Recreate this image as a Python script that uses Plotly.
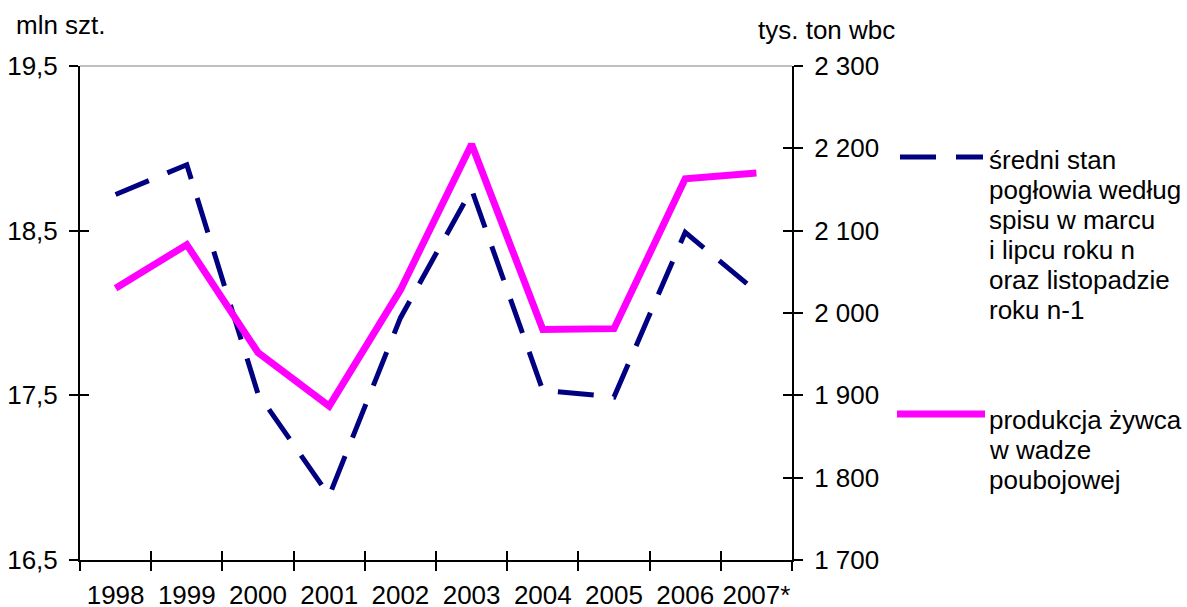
import plotly.graph_objects as go

# Data
years = ["1998", "1999", "2000", "2001", "2002", "2003", "2004", "2005", "2006", "2007*"]
herd_mln = [18.72, 18.90, 17.51, 16.89, 17.97, 18.75, 17.53, 17.49, 18.49, 18.13]
live_weight_kt = [2030, 2083, 1952, 1887, 2028, 2205, 1980, 1981, 2163, 2170]

herd_label = ["średni stan", "pogłowia według", "spisu w marcu",
              "i lipcu roku n", "oraz listopadzie", "roku n-1"]
weight_label = ["produkcja żywca", "w wadze", "poubojowej"]

left_title = "mln szt."
right_title = "tys. ton wbc"

NAVY = "#000080"
MAGENTA = "#ff00ff"
FONT = "Liberation Sans, Arial, sans-serif"
FS = 26

W, H = 1187, 607
L, R, T, B = 80, 792, 66, 560  # plot area in pixels


def px(xp):
    return (xp - L) / (R - L)


def py(yp):
    return (B - yp) / (B - T)


fig = go.Figure()

fig.add_trace(go.Scatter(
    x=years, y=herd_mln, mode="lines", xaxis="x", yaxis="y",
    line=dict(color=NAVY, width=5, dash="36px,20px"),
    showlegend=False, hoverinfo="skip"))

fig.add_trace(go.Scatter(
    x=years, y=live_weight_kt, mode="lines", xaxis="x", yaxis="y2",
    line=dict(color=MAGENTA, width=7),
    showlegend=False, hoverinfo="skip"))

# invisible traces carrying the inward half of the crossing tick marks
fig.add_trace(go.Scatter(x=years, y=herd_mln, xaxis="x2", yaxis="y3",
                         mode="lines", line=dict(width=0), opacity=0,
                         showlegend=False, hoverinfo="skip"))
fig.add_trace(go.Scatter(x=years, y=live_weight_kt, xaxis="x2", yaxis="y4",
                         mode="lines", line=dict(width=0), opacity=0,
                         showlegend=False, hoverinfo="skip"))

axis_common = dict(showgrid=False, zeroline=False, tickcolor="black",
                   tickwidth=2, ticklen=9, linecolor="black", linewidth=2,
                   automargin=False,
                   tickfont=dict(family=FONT, size=FS, color="black"))

xcat = dict(type="category", categoryorder="array", categoryarray=years,
            range=[-0.5, 9.5], tickson="boundaries", tickangle=0)

fig.update_layout(
    width=W, height=H,
    margin=dict(l=L, r=W - R, t=T, b=H - B),
    paper_bgcolor="white", plot_bgcolor="white",
    separators=", ",
    font=dict(family=FONT, size=FS, color="black"),
    xaxis=dict(**xcat, **axis_common, ticks="outside", showline=True,
               anchor="y", ticklabelstandoff=11),
    xaxis2=dict(**xcat, **axis_common, ticks="inside", showline=False,
                showticklabels=False, overlaying="x", anchor="y3"),
    yaxis=dict(**axis_common, range=[16.5, 19.5], tick0=16.5, dtick=1,
               tickformat=".1f", ticks="outside", showline=True,
               anchor="x", ticklabelstandoff=6),
    yaxis2=dict(**axis_common, range=[1700, 2300], tick0=1700, dtick=100,
                tickformat=",d", ticks="outside", showline=True,
                side="right", overlaying="y", anchor="x", ticklabelstandoff=6),
    yaxis3=dict(**axis_common, range=[16.5, 19.5], tick0=16.5, dtick=1,
                ticks="inside", showline=False, showticklabels=False,
                overlaying="y", anchor="x2"),
    yaxis4=dict(**axis_common, range=[1700, 2300], tick0=1700, dtick=100,
                ticks="inside", showline=False, showticklabels=False,
                side="right", overlaying="y", anchor="x2"),
)

shapes = [
    # light frame edge along the top of the plot area
    dict(type="line", xref="paper", yref="paper", x0=0, x1=1, y0=1, y1=1,
         line=dict(color="#c0c0c0", width=2)),
    # legend keys
    dict(type="line", xref="paper", yref="paper",
         x0=px(900), x1=px(983), y0=py(157), y1=py(157),
         line=dict(color=NAVY, width=5, dash="36px,20px")),
    dict(type="line", xref="paper", yref="paper",
         x0=px(897), x1=px(985), y0=py(414), y1=py(414),
         line=dict(color=MAGENTA, width=7)),
]

annotations = [
    dict(text=left_title, x=px(14), y=py(25), xanchor="left", yanchor="middle"),
    dict(text=right_title, x=px(756), y=py(30), xanchor="left", yanchor="middle"),
]
for i, line in enumerate(herd_label):
    annotations.append(dict(text=line, x=px(987), y=py(160 + 30 * i),
                            xanchor="left", yanchor="middle"))
for i, line in enumerate(weight_label):
    annotations.append(dict(text=line, x=px(987), y=py(420 + 30 * i),
                            xanchor="left", yanchor="middle"))
for a in annotations:
    a.update(xref="paper", yref="paper", showarrow=False,
             font=dict(family=FONT, size=FS, color="black"))

fig.update_layout(shapes=shapes, annotations=annotations)

fig.write_html("out.html")
